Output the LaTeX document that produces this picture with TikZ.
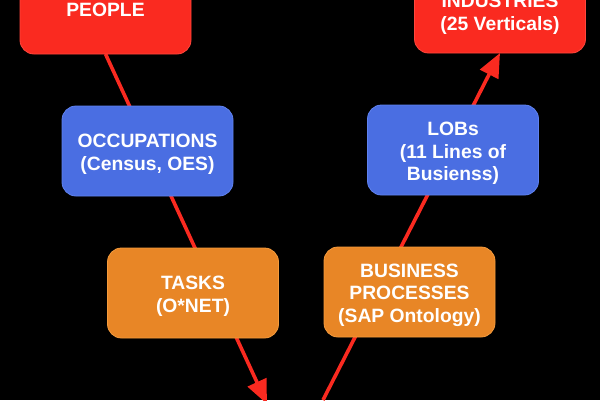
\documentclass[tikz,border=0pt]{standalone}
\usepackage{fontspec}
\setmainfont{Liberation Sans}
\usetikzlibrary{arrows.meta}
\definecolor{cred}{RGB}{250,42,32}
\definecolor{credb}{RGB}{255,70,60}
\definecolor{cblue}{RGB}{74,110,226}
\definecolor{cblueb}{RGB}{95,130,240}
\definecolor{corange}{RGB}{232,134,38}
\definecolor{coranb}{RGB}{245,155,60}
\newcommand\tup{\rule{0pt}{20pt}}
\tikzset{
  box/.style={rounded corners=14pt, minimum width=171pt, minimum height=90pt,
    inner sep=0pt, align=center, text=white, line width=0.8pt,
    font=\bfseries\fontsize{19.3}{22.8}\selectfont},
  redbox/.style={box, fill=cred, draw=credb},
  bluebox/.style={box, fill=cblue, draw=cblueb},
  orangebox/.style={box, fill=corange, draw=coranb},
  link/.style={draw=cred, line width=3.6pt, -{Triangle[length=24pt,width=20pt]}},
}
\begin{document}
\begin{tikzpicture}[x=1pt,y=-1pt]
\fill[black] (0,0) rectangle (600,400);
\useasboundingbox (0,0) rectangle (600,400);
\clip (0,0) rectangle (600,400);
\coordinate (bl) at (267,404);
\coordinate (br) at (323,400);
\coordinate (ps) at (105.5,54);
\coordinate (is) at (500,53);
\draw[link] (ps) -- (bl);
\draw[link] (br) -- (is);
\node[redbox, minimum height=89pt] (people) at (105.5,9.5) {PEOPLE};
\node[redbox, minimum height=84pt] (industries) at (500,11) {\tup INDUSTRIES\\(25 Verticals)};
\node[bluebox] (occupations) at (147.5,151) {\tup OCCUPATIONS\\(Census, OES)};
\node[bluebox] (lobs) at (453,150) {\tup LOBs\\(11 Lines of\\Busienss)};
\node[orangebox] (tasks) at (193,293) {\tup TASKS\\(O*NET)};
\node[orangebox] (business) at (409.5,292) {\tup BUSINESS\\PROCESSES\\(SAP Ontology)};
\end{tikzpicture}
\end{document}
